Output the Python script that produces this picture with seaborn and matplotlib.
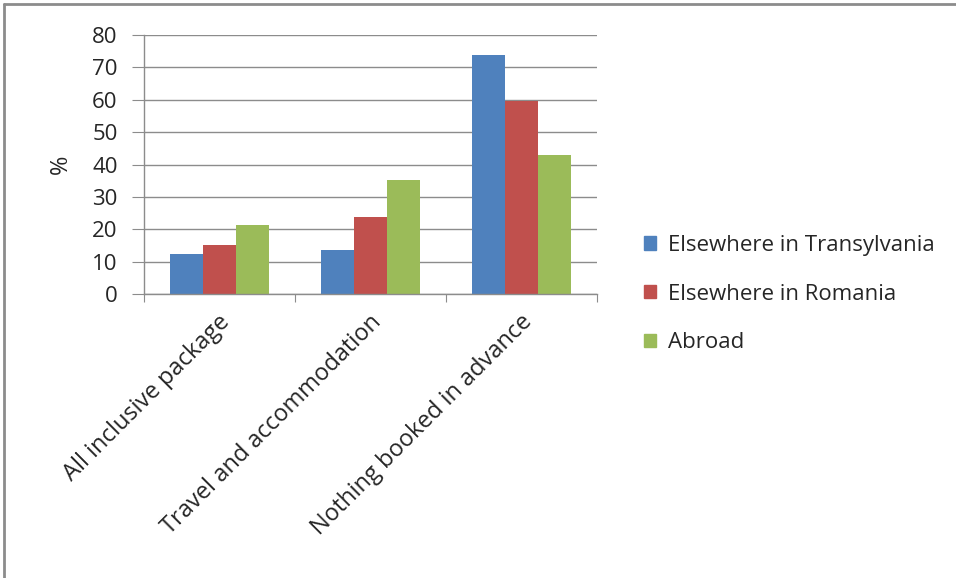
import pandas as pd
import matplotlib.pyplot as plt
import seaborn as sns
from matplotlib.lines import Line2D

categories = ['All inclusive package', 'Travel and accommodation', 'Nothing booked in advance']
series = ['Elsewhere in Transylvania', 'Elsewhere in Romania', 'Abroad']
transylvania = [12.4, 13.5, 73.7]
romania = [15.0, 23.9, 59.7]
abroad = [21.4, 35.2, 42.8]
colors = ['#4F81BD', '#C0504D', '#9BBB59']
yticks = [0, 10, 20, 30, 40, 50, 60, 70, 80]

df = pd.DataFrame({
    'category': categories * 3,
    'series': [series[0]] * 3 + [series[1]] * 3 + [series[2]] * 3,
    'value': transylvania + romania + abroad,
})

sns.set_style('white')
plt.rcParams['font.family'] = ['Open Sans', 'DejaVu Sans']
fs = 16

fig = plt.figure(figsize=(9.56, 5.78), dpi=100)
ax = fig.add_axes([0.1506, 0.4913, 0.4739, 0.4481])

sns.barplot(data=df, x='category', y='value', hue='series', hue_order=series,
            order=categories, palette=colors, width=0.66, saturation=1,
            edgecolor='none', ax=ax)

ax.set_ylim(0, 80)
ax.set_xlim(-0.5, 2.5)
ax.set_yticks(yticks)
ax.set_yticklabels([str(t) for t in yticks], fontsize=fs)
ax.yaxis.grid(True, color='#8c8c8c', linewidth=1)
ax.set_axisbelow(True)

# category boundary ticks like the original
ax.set_xticks([-0.5, 0.5, 1.5, 2.5])
ax.set_xticklabels([])
ax.tick_params(axis='x', length=6, color='#8c8c8c', direction='out', bottom=True)
ax.tick_params(axis='y', length=9, color='#8c8c8c', direction='out', left=True, pad=10)
for i, lab in enumerate(categories):
    ax.text(i - 0.01, -5.0, lab, rotation=45, ha='right', va='top',
            rotation_mode='anchor', fontsize=17, transform=ax.transData)

for s in ['top', 'right']:
    ax.spines[s].set_visible(False)
for s in ['left', 'bottom']:
    ax.spines[s].set_color('#8c8c8c')
    ax.spines[s].set_linewidth(1)

ax.set_xlabel('')
ax.set_ylabel('%', fontsize=17, labelpad=14)

handles = [plt.Rectangle((0, 0), 1, 1, color=c) for c in colors]
ax.legend(handles, series, loc='center left', bbox_to_anchor=(1.06, 0.0),
          frameon=False, fontsize=fs, handlelength=0.55, handleheight=0.55,
          handletextpad=0.5, labelspacing=1.25)

# outer chart frame (only top and left visible)
fig.add_artist(Line2D([0.004, 1], [0.993, 0.993], color='#8c8c8c', linewidth=2,
                      transform=fig.transFigure))
fig.add_artist(Line2D([0.004, 0.004], [0, 0.993], color='#8c8c8c', linewidth=2,
                      transform=fig.transFigure))

fig.savefig('out.png', dpi=100)
